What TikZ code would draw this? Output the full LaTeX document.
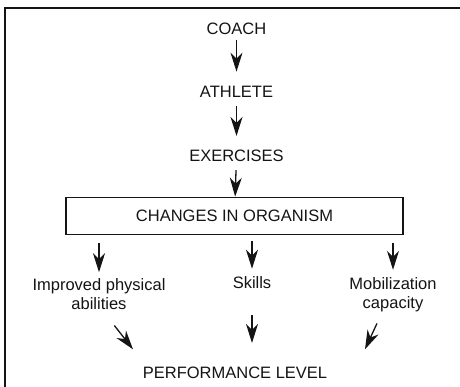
\documentclass[tikz,border=0pt]{standalone}
\usepackage{fontspec}
\setmainfont{Liberation Sans}
\usetikzlibrary{arrows.meta,positioning}
\definecolor{ink}{HTML}{141414}
\tikzset{
  >={Stealth[length=19pt,width=12pt,inset=6pt]},
  every node/.style={font=\fontsize{16.5}{19}\selectfont,text=ink,inner sep=0pt},
  stage/.style={align=center},
  changebox/.style={draw=ink,line width=1.3pt,minimum width=337pt,minimum height=37pt},
  arrow/.style={->,line width=1.3pt,draw=ink},
  outerframe/.style={draw=ink,line width=2pt},
}

\begin{document}
\begin{tikzpicture}[x=1pt,y=-1pt]
  \useasboundingbox (0,0) rectangle (460,387);
  \draw[outerframe] (460,8) -- (5,8) -- (5,387);

  \node[stage] (coach) at (236.5,28.5) {COACH};
  \node[stage] (athlete) at (236.5,91.5) {ATHLETE};
  \node[stage] (exercises) at (236.5,156) {EXERCISES};
  \node[changebox] (changes) at (234.5,215.8) {CHANGES IN ORGANISM};
  \draw[arrow,shorten <=5pt,shorten >=14pt] (coach) -- (athlete);
  \draw[arrow,shorten <=9pt,shorten >=14pt] (athlete) -- (exercises);
  \draw[arrow,shorten <=8pt] (exercises) -- (changes);

  \node[stage] (improved) at (99,294) {Improved physical\\abilities};
  \node[stage] (skills) at (252,283) {Skills};
  \node[stage] (mobil) at (393,295.2) {Mobilization\\capacity};
  \draw[arrow,shorten <=8pt,shorten >=6pt] (changes.south -| improved.north) -- (improved.north);
  \draw[arrow,shorten <=6pt,shorten >=8pt] (changes.south -| skills.north) -- (skills.north);
  \draw[arrow,shorten <=8pt,shorten >=8pt] (changes.south -| mobil.north) -- (mobil.north);

  \node[stage] (perf) at (235,373) {PERFORMANCE LEVEL};
  \coordinate (perfL) at (133,349.3);
  \coordinate (perfR) at (365,349.3);
  \draw[arrow,shorten <=20pt] ([xshift=3pt]improved.south) -- (perfL);
  \draw[arrow,shorten <=26pt,shorten >=24pt] (skills.south) -- (skills.south |- perf.north);
  \draw[arrow,shorten <=12pt] ([xshift=-11pt]mobil.south) -- (perfR);
\end{tikzpicture}
\end{document}
